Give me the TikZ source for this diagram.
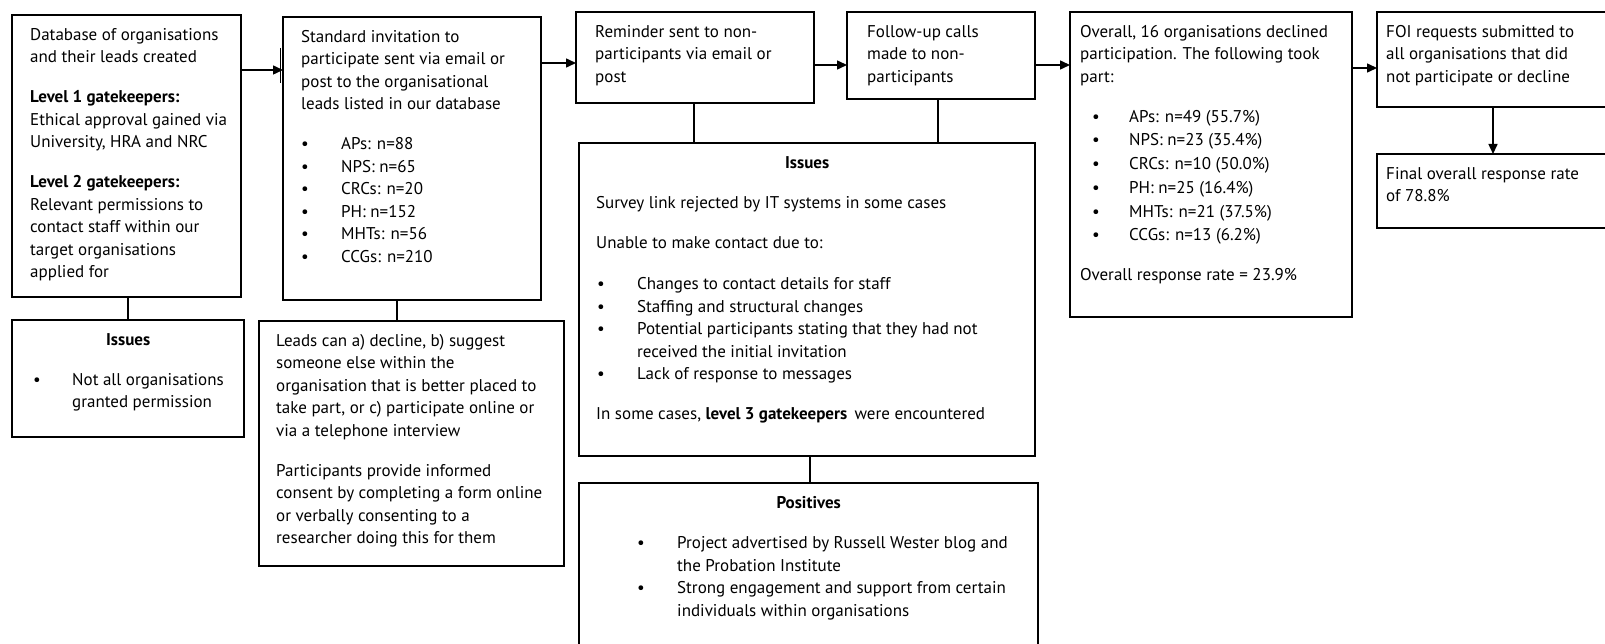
\documentclass[tikz,border=0pt]{standalone}
\usepackage{fontspec}
\setmainfont{PT Sans}
\usetikzlibrary{arrows.meta,calc}
\newcommand{\fs}{\fontsize{17bp}{22.5bp}\selectfont}
\newcommand{\bl}[3]{\hspace*{#1}\makebox[#2][l]{\textbullet}#3}
\tikzset{
  box/.style={draw, line width=2.6bp, anchor=north west, inner sep=0pt, outer sep=0pt},
  txt/.style={anchor=north west, inner sep=0pt, align=left, font=\fs},
  arr/.style={line width=1.5bp, -{Triangle[length=10bp,width=9bp]}},
  ln/.style={line width=1.3bp}
}
\begin{document}
\begin{tikzpicture}[x=1bp,y=-1bp]
\useasboundingbox (0,0) rectangle (1605,644);
\fill[white] (0,0) rectangle (1605,644);
\clip (0,0) rectangle (1605,644);

% boxes
\node[box, minimum width=229bp, minimum height=282bp] (A) at (12,15) {};
\node[box, minimum width=258bp, minimum height=283bp] (B) at (283,17) {};
\node[box, minimum width=238bp, minimum height=91bp] (Rem) at (576,12) {};
\node[box, minimum width=188bp, minimum height=87bp] (Fol) at (847,12) {};
\node[box, minimum width=282bp, minimum height=305bp] (Ovr) at (1070,12) {};
\node[box, minimum width=270bp, minimum height=95bp] (FOI) at (1377,12) {};
\node[box, minimum width=270bp, minimum height=74bp] (Fin) at (1377,154) {};
\node[box, minimum width=232bp, minimum height=117bp] (Iss1) at (12,320) {};
\node[box, minimum width=305bp, minimum height=245bp] (Leads) at (259,321) {};
\node[box, minimum width=456bp, minimum height=313bp] (IssB) at (579,143) {};
\node[box, minimum width=459bp, minimum height=200bp] (Pos) at (579,483) {};

% texts
\node[txt] (tA) at ($(A.north west)+(18,9.25)$) {\strut Database of organisations\\and their leads created\\[17.5bp]
\textbf{Level 1 gatekeepers:}\\Ethical approval gained via\\University, HRA and NRC\\[17.5bp]
\textbf{Level 2 gatekeepers:}\\Relevant permissions to\\contact staff within our\\target organisations\\applied for};

\node[txt] (tB) at ($(B.north west)+(18,9.25)$) {\strut Standard invitation to\\participate sent via email or\\post to the organisational\\leads listed in our database\\[17.5bp]
\bl{0bp}{40bp}{APs: n=88}\\
\bl{0bp}{40bp}{NPS: n=65}\\
\bl{0bp}{40bp}{CRCs: n=20}\\
\bl{0bp}{40bp}{PH: n=152}\\
\bl{0bp}{40bp}{MHTs: n=56}\\
\bl{0bp}{40bp}{CCGs: n=210}};

\node[txt] (tRem) at ($(Rem.north west)+(19,9.25)$) {\strut Reminder sent to non-\\participants via email or\\post};
\node[txt] (tFol) at ($(Fol.north west)+(20,9.25)$) {\strut Follow-up calls\\made to non-\\participants};

\node[txt] (tOvr) at ($(Ovr.north west)+(10,9.25)$) {\strut Overall, 16 organisations declined\\participation. The following took\\part:\\[17.5bp]
\bl{12bp}{37bp}{APs: n=49 (55.7\%)}\\[1.2bp]
\bl{12bp}{37bp}{NPS: n=23 (35.4\%)}\\[1.2bp]
\bl{12bp}{37bp}{CRCs: n=10 (50.0\%)}\\[1.2bp]
\bl{12bp}{37bp}{PH: n=25 (16.4\%)}\\[1.2bp]
\bl{12bp}{37bp}{MHTs: n=21 (37.5\%)}\\[1.2bp]
\bl{12bp}{37bp}{CCGs: n=13 (6.2\%)}\\[17.5bp]
Overall response rate = 23.9\%};

\node[txt] (tFOI) at ($(FOI.north west)+(9,9.25)$) {\strut FOI requests submitted to\\all organisations that did\\not participate or decline};
\node[txt] (tFin) at ($(Fin.north west)+(9,9.25)$) {\strut Final overall response rate\\of 78.8\%};

\node[txt] (tIss1) at ($(Iss1.north west)+(18,9.25)$) {\strut\makebox[196bp]{\textbf{Issues}}\\[17.5bp]
\bl{3bp}{39bp}{Not all organisations}\\
\hspace*{42bp}granted permission};

\node[txt] (tLeads) at ($(Leads.north west)+(17,9.25)$) {\strut Leads can a) decline, b) suggest\\someone else within the\\organisation that is better placed to\\take part, or c) participate online or\\via a telephone interview\\[17.5bp]
Participants provide informed\\consent by completing a form online\\or verbally consenting to a\\researcher doing this for them};

\node[txt] (tIssB) at ($(IssB.north west)+(17,9.25)$) {\strut\makebox[422bp]{\textbf{Issues}}\\[17.5bp]
Survey link rejected by IT systems in some cases\\[17.5bp]
Unable to make contact due to:\\[19bp]
\bl{1bp}{40bp}{Changes to contact details for staff}\\
\bl{1bp}{40bp}{Staffing and structural changes}\\
\bl{1bp}{40bp}{Potential participants stating that they had not}\\
\hspace*{41bp}received the initial invitation\\
\bl{1bp}{40bp}{Lack of response to messages}\\[17.5bp]
In some cases, \textbf{level 3 gatekeepers}\, were encountered};

\node[txt] (tPos) at ($(Pos.north west)+(17,9.25)$) {\strut\makebox[425bp]{\textbf{Positives}}\\[18bp]
\bl{41bp}{40bp}{Project advertised by Russell Wester blog and}\\
\hspace*{81bp}the Probation Institute\\
\bl{41bp}{40bp}{Strong engagement and support from certain}\\
\hspace*{81bp}individuals within organisations};

% arrows along the top row
\draw[arr] (A.east |- 0,70) -- (B.west |- 0,70);
\draw[line width=0.8bp] ($(B.north west)+(-3,31)$) -- ($(B.north west)+(-3,66)$);
\draw[arr] (B.east |- 0,63) -- (Rem.west |- 0,63);
\draw[arr] (Rem.east |- 0,65) -- (Fol.west |- 0,65);
\draw[arr] (Fol.east |- 0,65) -- (Ovr.west |- 0,65);
\draw[arr] (Ovr.east |- 0,68) -- (FOI.west |- 0,68);
\draw[arr] (FOI.south -| 1493,0) -- (Fin.north -| 1493,0);

% plain connectors
\draw[ln] (A.south -| 128,0) -- (Iss1.north -| 128,0);
\draw[ln] (B.south -| 397,0) -- (Leads.north -| 397,0);
\draw[ln] (Rem.south -| 694,0) -- (IssB.north -| 694,0);
\draw[ln] (Fol.south -| 938,0) -- (IssB.north -| 938,0);
\draw[ln] (IssB.south -| 810,0) -- (Pos.north -| 810,0);
\end{tikzpicture}
\end{document}
